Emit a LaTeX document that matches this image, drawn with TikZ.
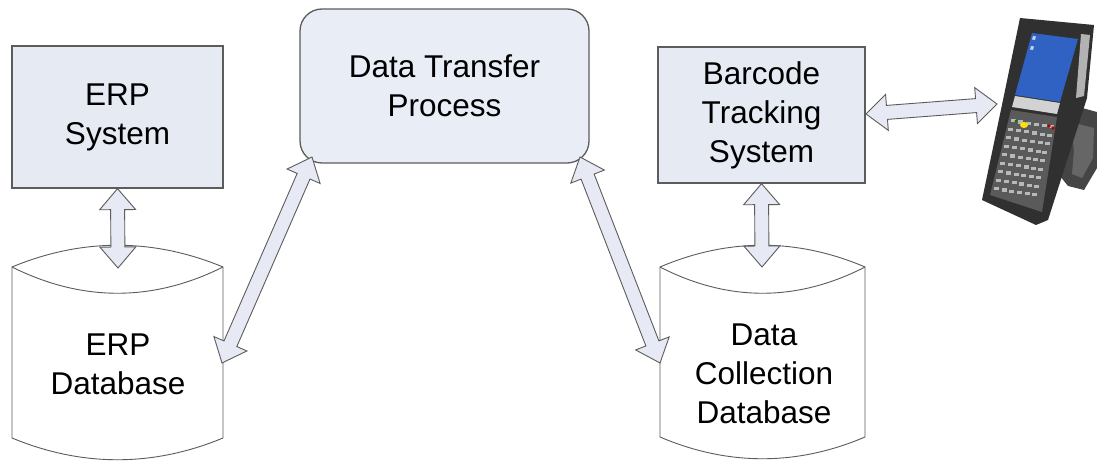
\documentclass[tikz,border=0pt]{standalone}
\usepackage{fontspec}
\setmainfont{Liberation Sans}
\usetikzlibrary{calc}
\definecolor{boxfill}{HTML}{E5EAF3}
\definecolor{dtpfill}{HTML}{E8EDF6}
\definecolor{edge}{HTML}{5C5C5C}
\definecolor{arrfill}{HTML}{E7E9F4}
\definecolor{devbody}{HTML}{303030}
\definecolor{devscreen}{HTML}{2F62C2}
\definecolor{devkey}{HTML}{B8B8B8}
\tikzset{
  sysbox/.style={draw=edge, line width=1.3pt, fill=boxfill, align=center, inner sep=0pt,
    font=\fontsize{31.5}{39}\selectfont},
  txt/.style={align=center, inner sep=0pt, font=\fontsize{31.5}{39}\selectfont},
  fatarr/.style={draw=edge, line width=0.9pt, fill=arrfill, line join=miter},
  dbline/.style={draw=edge, line width=0.9pt, fill=white},
}
\newcommand\dblarrow[2]{%
  \coordinate (ha) at ($(#1)!21pt!(#2)$);
  \coordinate (hb) at ($(#2)!21pt!(#1)$);
  \draw[fatarr] (#1) -- ($(ha)!18pt!90:(#2)$) -- ($(ha)!7pt!90:(#2)$)
    -- ($(hb)!7pt!-90:(#1)$) -- ($(hb)!18pt!-90:(#1)$) -- (#2)
    -- ($(hb)!18pt!90:(#1)$) -- ($(hb)!7pt!90:(#1)$)
    -- ($(ha)!7pt!-90:(#2)$) -- ($(ha)!18pt!-90:(#2)$) -- cycle;
}
\begin{document}
\begin{tikzpicture}[x=1pt,y=-1pt]
\useasboundingbox[fill=white] (0,0) rectangle (1097,462);

% boxes
\node[sysbox, minimum width=211pt, minimum height=142pt] (erp) at (117.5,117) {ERP\\System};
\node[sysbox, fill=dtpfill, rounded corners=22pt, minimum width=289pt, minimum height=154pt] (dtp) at (444.5,86) {Data Transfer\\Process};
\node[sysbox, minimum width=207pt, minimum height=136pt] (bts) at (761.5,115) {Barcode\\Tracking\\System};

% ERP database cylinder
\draw[dbline] (12,267) .. controls (82,238) and (153,238) .. (223,267)
  -- (223,438) .. controls (153,467) and (82,467) .. (12,438) -- cycle;
\draw[edge, line width=0.9pt] (12,267) .. controls (82,302) and (153,302) .. (223,267);
\node[txt] (erpdb) at (118,364) {ERP\\Database};

% Data collection database cylinder
\draw[dbline] (660,267) .. controls (728,238) and (797,238) .. (865,267)
  -- (865,437) .. controls (797,466) and (728,466) .. (660,437) -- cycle;
\draw[edge, line width=0.9pt] (660,267) .. controls (728,302) and (797,302) .. (865,267);
\node[txt] (dcdb) at (764,374) {Data\\Collection\\Database};

% handheld device
\fill[devbody!90] (1060,102) -- (1097,112) -- (1097,168) -- (1084,190) -- (1068,186) -- (1060,176) -- (1064,140) -- cycle;
\fill[gray!80!black] (1070,122) -- (1094,128) -- (1093,158) -- (1082,178) -- (1072,174) -- (1074,150) -- cycle;
\fill[devbody] (1020,18) -- (1094,25) -- (1087,98) -- (1048,220) -- (1036,225) -- (982,200) -- (1003,100) -- cycle;
\fill[gray!60] (1081,34) -- (1090,35) -- (1084,96) -- (1076,98) -- cycle;
\fill[devscreen] (1032,33) -- (1078,39) -- (1060,102) -- (1015,95) -- cycle;
\fill[white!70!devscreen] (1033,36) -- (1036,36.5) -- (1035,40) -- (1032,39.5) -- cycle;
\fill[white!70!devscreen] (1031,46) -- (1034,46.5) -- (1033,50) -- (1030,49.5) -- cycle;
\fill[gray!35] (1015,96) -- (1060,103) -- (1057,114) -- (1012,107) -- cycle;
\fill[devbody!80!white] (1011,110) -- (1057,117) -- (1042,212) -- (990,195) -- cycle;
\foreach \u in {0.1,0.27,0.44,0.61,0.78,0.93}{
  \foreach \v in {0.12,0.22,0.32,0.42,0.52,0.62,0.72,0.82,0.92}{
    \fill[devkey] ({1011+46*\u-21*\v-2.5},{110+7*\u+85*\v-1.6}) rectangle ++(5,3.2);
  }
}
\fill[yellow!85!orange] (1024,125) ellipse (4pt and 3pt);
\fill[red!70!black] (1049,126) circle (1.8pt);
\fill[red!70!black] (1053,128) circle (1.8pt);
\fill[green!50!black] (1016,121) circle (1.6pt);

% connector end points
\coordinate (erpdbtop) at (118,268);
\coordinate (erpdbright) at (222,363);
\coordinate (dtpsw) at (312,157);
\coordinate (dtpse) at (580,157);
\coordinate (dcdbleft) at (660,363);
\coordinate (dcdbtop) at (762,267);
\coordinate (btsright) at (866,114);
\coordinate (devleft) at (997,104);

% connectors
\dblarrow{erp.south}{erpdbtop}
\dblarrow{erpdbright}{dtpsw}
\dblarrow{dtpse}{dcdbleft}
\dblarrow{bts.south}{dcdbtop}
\dblarrow{btsright}{devleft}
\end{tikzpicture}
\end{document}
